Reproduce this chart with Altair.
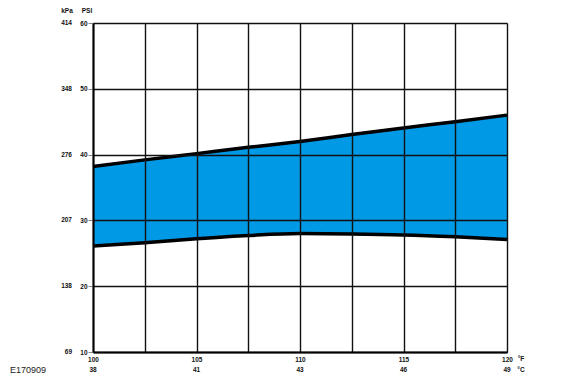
import altair as alt
import pandas as pd

# ---- data ----
temp_f = [100, 102.5, 105, 107.5, 110, 112.5, 115, 117.5, 120]
upper_psi = [38.2, 39.2, 40.15, 41.1, 42.0, 43.05, 44.05, 45.0, 46.0]
lower_psi = [26.1, 26.6, 27.2, 27.7, 28.0, 27.95, 27.8, 27.5, 27.1]

psi_ticks = [10, 20, 30, 40, 50, 60]
kpa_labels = ["69", "138", "207", "276", "348", "414"]
f_ticks = [100, 105, 110, 115, 120]
c_labels = ["38", "41", "43", "46", "49"]

FONT = "Liberation Sans"
W, H = 414, 329

band = pd.DataFrame({"F": temp_f, "upper": upper_psi, "lower": lower_psi})
kpa_df = pd.DataFrame({"psi": psi_ticks, "kpa": kpa_labels})
c_df = pd.DataFrame({"F": f_ticks, "C": c_labels})

xs = alt.Scale(domain=[100, 120], nice=False, zero=False)
ys = alt.Scale(domain=[10, 60], nice=False, zero=False)

ax_x = alt.Axis(
    values=temp_f, grid=True, gridColor="#111", gridWidth=1.4, gridOpacity=1,
    domainColor="#000", domainWidth=2, ticks=False, title=None,
    labelExpr="datum.value % 5 == 0 ? format(datum.value, 'd') : ''",
    labelFont=FONT, labelFontSize=6.5, labelFontWeight="bold", labelColor="#111",
    labelPadding=4, labelFlush=False, labelOverlap=False, zindex=1,
)
ax_y = alt.Axis(
    values=psi_ticks, grid=True, gridColor="#111", gridWidth=1.4, gridOpacity=1,
    domainColor="#000", domainWidth=2, ticks=True, tickColor="#888", tickSize=5,
    tickWidth=1, title=None, format="d",
    labelFont=FONT, labelFontSize=6.5, labelFontWeight="bold", labelColor="#111",
    labelPadding=1, labelFlush=False, labelOverlap=False, zindex=1,
)

area = alt.Chart(band).mark_area(color="#0099E5", interpolate="monotone").encode(
    x=alt.X("F:Q", scale=xs, axis=ax_x),
    y=alt.Y("upper:Q", scale=ys, axis=ax_y),
    y2="lower:Q",
)
upper_line = alt.Chart(band).mark_line(color="#000", strokeWidth=3.5, interpolate="monotone").encode(
    x=alt.X("F:Q", scale=xs, axis=ax_x),
    y=alt.Y("upper:Q", scale=ys, axis=ax_y),
)
lower_line = alt.Chart(band).mark_line(color="#000", strokeWidth=3.5, interpolate="monotone").encode(
    x=alt.X("F:Q", scale=xs, axis=ax_x),
    y=alt.Y("lower:Q", scale=ys, axis=ax_y),
)

kpa_text = alt.Chart(kpa_df).mark_text(
    align="right", baseline="middle", font=FONT, fontSize=6.5, fontWeight="bold", color="#111"
).encode(
    x=alt.value(-21),
    y=alt.Y("psi:Q", scale=ys, axis=ax_y),
    text="kpa:N",
)
c_text = alt.Chart(c_df).mark_text(
    align="center", baseline="middle", font=FONT, fontSize=6.5, fontWeight="bold", color="#111"
).encode(
    x=alt.X("F:Q", scale=xs, axis=ax_x),
    y=alt.value(H + 18),
    text="C:N",
)


def note(txt, x, y, align="center", size=6.5, weight="bold", color="#111"):
    return alt.Chart(pd.DataFrame({"t": [txt]})).mark_text(
        align=align, baseline="middle", font=FONT, fontSize=size, fontWeight=weight, color=color
    ).encode(x=alt.value(x), y=alt.value(y), text="t:N")


notes = [
    note("kPa", -26, -12),
    note("PSI", -6, -12),
    note("°F", 428, H + 7),
    note("°C", 428, H + 18),
    note("E170909", -83, H + 18, align="left", size=9, weight="normal", color="#222"),
]

chart = alt.layer(area, upper_line, lower_line, kpa_text, c_text, *notes).properties(
    width=W,
    height=H,
    autosize=alt.AutoSizeParams(type="none"),
    padding={"left": 85, "top": 15, "right": 65, "bottom": 27},
).configure_view(strokeWidth=0).configure(background="white")

chart.save("out.html", embed_options={"renderer": "svg", "actions": False})
